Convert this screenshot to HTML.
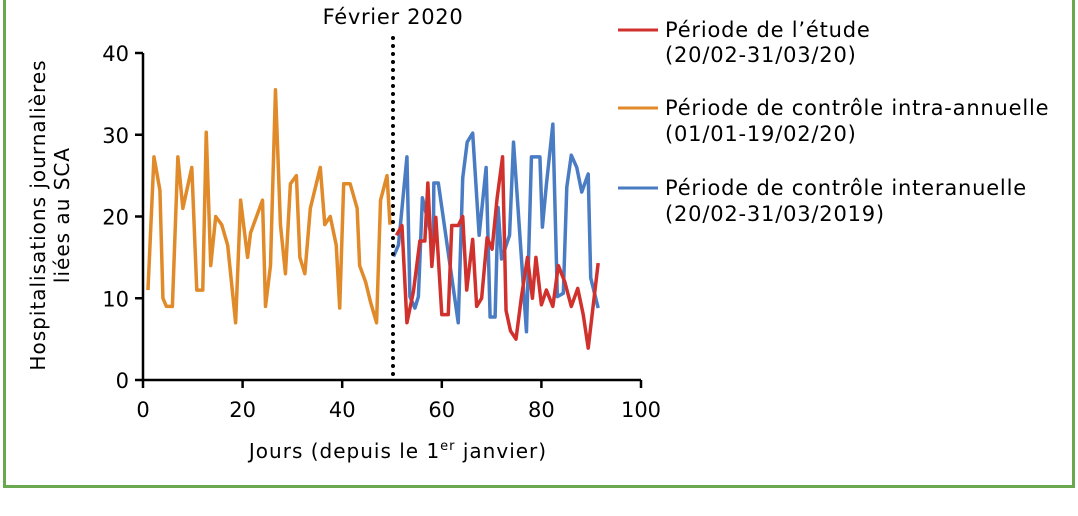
<!DOCTYPE html>
<html><head><meta charset="utf-8"><style>
html,body{margin:0;padding:0;background:#fff;}
svg{display:block;font-family:"DejaVu Sans","Liberation Sans",sans-serif;}
</style></head><body>
<svg width="1078" height="516" viewBox="0 0 1078 516">
<path d="M4.5,-2 V486.5 H1073.5 V-2" fill="none" stroke="#6aa84f" stroke-width="3"/>
<g id="axes"></g>
<g id="plot"></g>
<text x="393" y="24" font-size="21" letter-spacing="0.7" text-anchor="middle">Février 2020</text>
<text x="398" y="458" font-size="20" letter-spacing="1" text-anchor="middle">Jours (depuis le 1<tspan font-size="13" dy="-8">er</tspan><tspan dy="8"> janvier)</tspan></text>
<g transform="translate(45,215) rotate(-90)">
<text x="0" y="0" font-size="20" letter-spacing="1" text-anchor="middle">Hospitalisations journalières</text>
<text x="0" y="24" font-size="20" letter-spacing="1" text-anchor="middle">liées au SCA</text>
</g>
<g font-size="21" letter-spacing="0.8">
<g>
<line x1="618" y1="30" x2="658" y2="30" stroke="#d0312d" stroke-width="3"/>
<text x="665" y="37">Période de l’étude</text><text x="665" y="62">(20/02-31/03/20)</text></g>
<g>
<line x1="618" y1="108" x2="658" y2="108" stroke="#e08a2a" stroke-width="3"/>
<text x="665" y="115">Période de contrôle intra-annuelle</text><text x="665" y="141">(01/01-19/02/20)</text></g>
<g>
<line x1="618" y1="188" x2="658" y2="188" stroke="#4a7cc4" stroke-width="3"/>
<text x="665" y="195">Période de contrôle interanuelle</text><text x="665" y="221">(20/02-31/03/2019)</text></g>
</g>
</svg>
<script>
const xTicks=[0,20,40,60,80,100];
const yTicks=[0,10,20,30,40];
const orangeDays=[1,2.2,3.4,4,4.7,5.9,7,8,9.8,10.8,12,12.7,13.6,14.6,15.8,17,18.6,19.6,21,21.6,24,24.6,25.6,26.6,27.6,28.6,29.6,30.8,31.5,32.5,33.6,35.6,36.5,37.6,38.8,39.5,40.3,41.6,43,43.5,44.7,45.7,46.9,47.7,49,49.6];
const orangeVals=[11,27.3,23.2,10,9,9,27.3,21,26,11,11,30.3,14,20,19,16.5,7,22,15,18,22,9,14,35.5,19,13,24,25,15,13,21,26,19,20,16.5,8.8,24,24,21,14,12,9.5,7,22,25,19];
const redDays=[50.9,52,53,54.3,55.6,56.6,57.2,58,58.8,60,61.3,62,63.3,64.2,65,66.2,67,68,69.1,70.1,71.1,72.2,72.9,73.8,74.9,76,77.2,78.2,78.9,80,81,82.3,83.4,84.7,86,87.3,88.4,89.4,91.4];
const redVals=[17.7,18.9,7,10.8,17,17,24.1,13.9,19.9,8,8,18.9,18.9,20,11,17.2,9,10,17.4,16,22.2,27.3,8.5,6,5,10.2,15,10,15,9.2,11,9,14,12,9,11.2,8,3.9,14.3];
const blueDays=[50.3,51.3,53,53.6,54.6,55.3,56.1,58.3,58.4,59.3,63.3,64.2,65.1,66.2,67.5,68.9,69.7,70.7,71.3,72,73.6,74.4,77,78,79.7,80.2,81,82.3,83.2,84.4,85.1,86,87.1,88.1,89.4,89.9,91.4];
const blueVals=[15.1,16.5,27.3,10.2,8.8,10.2,22.3,16.7,24.1,24.1,7,24.7,29.1,30.2,17.7,26,7.7,7.7,21.1,14.8,17.7,29.1,5.9,27.3,27.3,18.7,23.9,31.3,10.2,10.6,23.6,27.5,26,23,25.2,12.5,8.8];
const markerDay=50.2;
const X=d=>143+d*4.98, Y=v=>380-v*8.175;
const NS="http://www.w3.org/2000/svg";
const axes=document.getElementById('axes'), plot=document.getElementById('plot');
function mk(t,a,p){const e=document.createElementNS(NS,t);for(const k in a)e.setAttribute(k,a[k]);p.appendChild(e);return e;}
let e=mk('line',{x1:X(0),y1:Y(0),x2:X(100),y2:Y(0),stroke:'#000','stroke-width':2.5},axes);


e=mk('line',{x1:X(0),y1:Y(0)+1,x2:X(0),y2:Y(40),stroke:'#000','stroke-width':2.5},axes);


xTicks.forEach(t=>{
 mk('line',{x1:X(t),y1:Y(0),x2:X(t),y2:Y(0)+8,stroke:'#000','stroke-width':2.5},axes);
 const tx=mk('text',{x:X(t),y:417,'font-size':21,'text-anchor':'middle'},axes);tx.textContent=t;
 
 
});
yTicks.forEach(t=>{
 mk('line',{x1:X(0)-8,y1:Y(t),x2:X(0),y2:Y(t),stroke:'#000','stroke-width':2.5},axes);
 const tx=mk('text',{x:X(0)-14,y:Y(t)+8,'font-size':21,'text-anchor':'end'},axes);tx.textContent=t;
 
 
});
function series(days,vals,color,name){
 const p=mk('polyline',{points:days.map((d,i)=>X(d)+','+Y(vals[i])).join(' '),fill:'none',stroke:color,'stroke-width':3.5,'stroke-linejoin':'round'},plot);
 
 
}
series(orangeDays,orangeVals,'#e08a2a','intra-annual-control-line');
series(blueDays,blueVals,'#4a7cc4','inter-annual-control-line');
series(redDays,redVals,'#d0312d','study-period-line');
e=mk('line',{x1:X(markerDay),y1:38,x2:X(markerDay),y2:Y(0),stroke:'#000','stroke-width':4,'stroke-dasharray':'0 8','stroke-linecap':'round'},plot);


</script>
</body></html>
